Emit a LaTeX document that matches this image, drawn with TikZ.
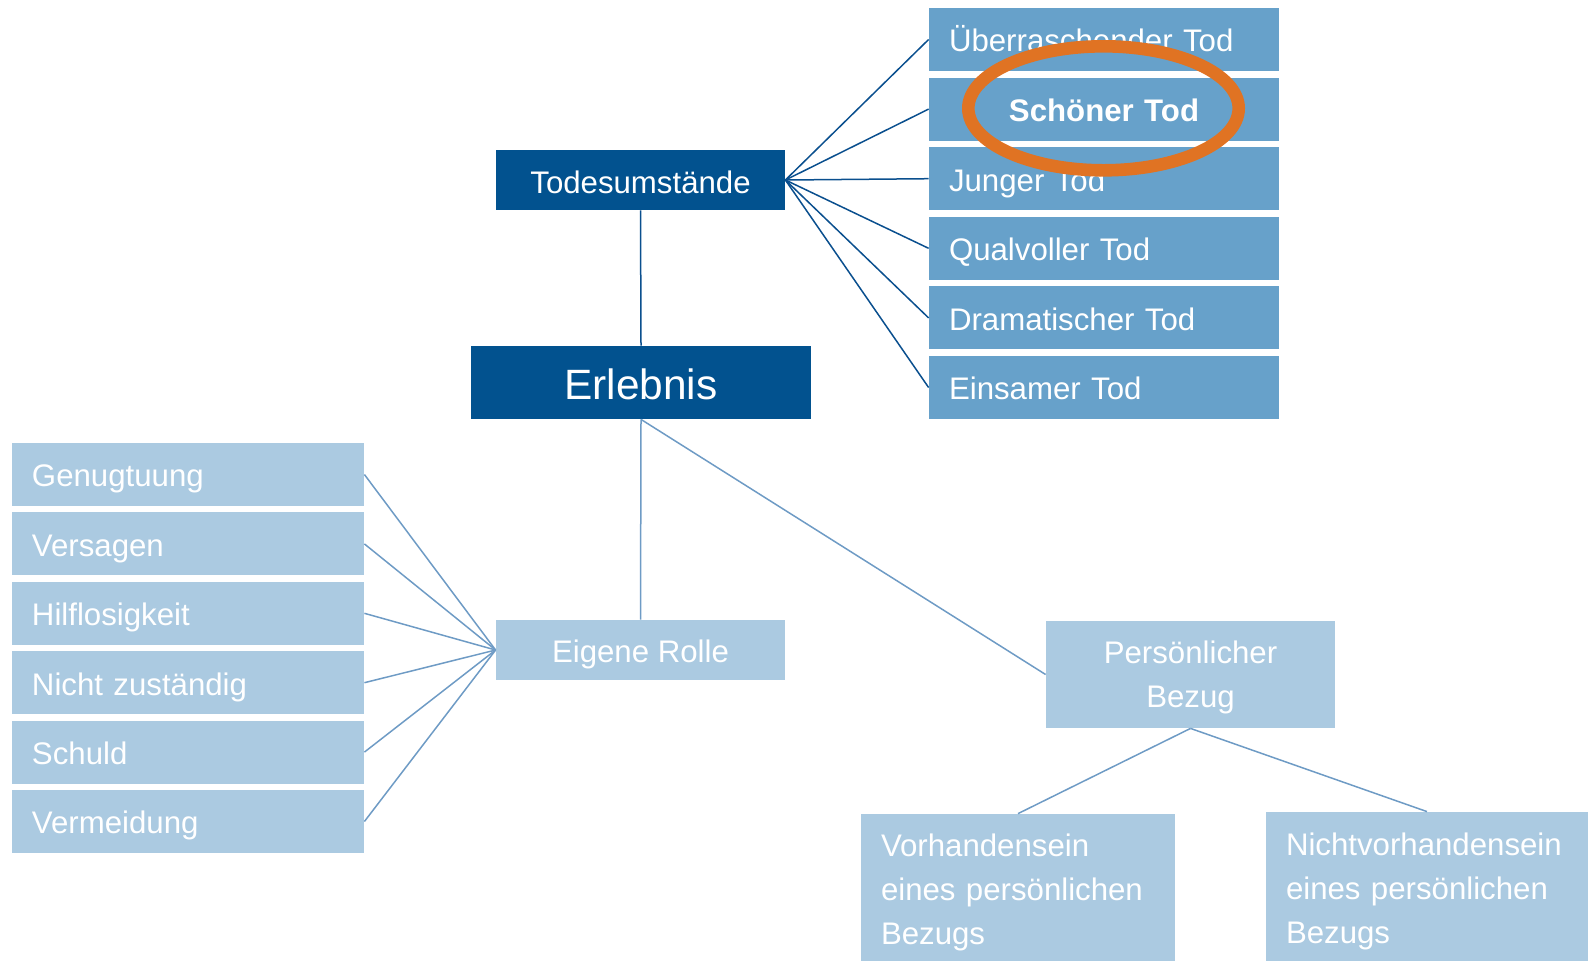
\documentclass[tikz,border=0pt]{standalone}
\usepackage{fontspec}
\setmainfont{Liberation Sans}
\usepackage{tikz}
\definecolor{darkblue}{HTML}{02528F}
\definecolor{midblue}{HTML}{67A1CA}
\definecolor{lightblue}{HTML}{ABCAE1}
\definecolor{darkline}{HTML}{0A4F8E}
\definecolor{lightline}{HTML}{6E9BC5}
\definecolor{markorange}{HTML}{E07323}

\begin{document}
\begin{tikzpicture}[x=0.5pt,y=-0.5pt,
  box/.style={inner sep=0pt,text=white,font=\fontsize{15.6}{22}\selectfont},
  oneline/.style={text height=12.4pt,text depth=0pt},
  headbox/.style={box,fill=darkblue,minimum width=144.5pt,minimum height=30pt,text height=13.4pt,text depth=0pt},
  todbox/.style={box,oneline,fill=midblue,minimum width=175pt,minimum height=31.5pt,text width=155pt,align=left},
  rollbox/.style={box,oneline,fill=lightblue,minimum width=176pt,minimum height=31.5pt,text width=156pt,align=left},
  subbox/.style={box,fill=lightblue,align=center},
  darkedge/.style={draw=darkline,line width=0.75pt},
  lightedge/.style={draw=lightline,line width=0.75pt}]
\useasboundingbox (0,0) rectangle (1588,960);
% main boxes:
\node[headbox] (todesumst) at (640.5,180) {Todesumstände};
\node[headbox,minimum width=170pt,minimum height=36.5pt,text height=17.4pt,font=\fontsize{21.2}{26}\selectfont] (erlebnis) at (641,382.5) {Erlebnis};
\node[subbox,oneline,minimum width=144.5pt,minimum height=30pt] (rolle) at (640.5,650) {Eigene Rolle};
\node[subbox,minimum width=144.5pt,minimum height=53.5pt] (bezug) at (1190.5,674.5) {\rule{0pt}{14.5pt}Persönlicher\\Bezug};
\node[subbox,minimum width=157pt,minimum height=78pt,text width=137pt,align=left] (vorh) at (1018,892) {Vorhandensein\\eines persönlichen\\Bezugs};
\node[subbox,minimum width=161pt,minimum height=79pt,text width=141pt,align=left] (nichtvorh) at (1427,891) {Nichtvorhandensein\\eines persönlichen\\Bezugs};
% todesumstaende:
\node[todbox] (tod1) at (1104,39.5) {Überraschender Tod};
\node[todbox,align=center,font=\fontsize{15.6}{22}\selectfont\bfseries] (tod2) at (1104,109.1) {Schöner Tod};
\node[todbox] (tod3) at (1104,178.7) {Junger Tod};
\node[todbox] (tod4) at (1104,248.3) {Qualvoller Tod};
\node[todbox] (tod5) at (1104,317.9) {Dramatischer Tod};
\node[todbox] (tod6) at (1104,387.5) {Einsamer Tod};
% eigene rolle:
\node[rollbox] (rolle1) at (188,474.5) {Genugtuung};
\node[rollbox] (rolle2) at (188,543.9) {Versagen};
\node[rollbox] (rolle3) at (188,613.3) {Hilflosigkeit};
\node[rollbox] (rolle4) at (188,682.7) {Nicht zuständig};
\node[rollbox] (rolle5) at (188,752.1) {Schuld};
\node[rollbox] (rolle6) at (188,821.5) {Vermeidung};
% connectors:
\path[darkedge] (todesumst.south) -- (erlebnis.north);
\path[darkedge] (todesumst.east) -- (tod1.west);
\path[darkedge] (todesumst.east) -- (tod2.west);
\path[darkedge] (todesumst.east) -- (tod3.west);
\path[darkedge] (todesumst.east) -- (tod4.west);
\path[darkedge] (todesumst.east) -- (tod5.west);
\path[darkedge] (todesumst.east) -- (tod6.west);
\path[lightedge] (erlebnis.south) -- (rolle.north);
\path[lightedge] (erlebnis.south) -- (bezug.west);
\path[lightedge] (rolle.west) -- (rolle1.east);
\path[lightedge] (rolle.west) -- (rolle2.east);
\path[lightedge] (rolle.west) -- (rolle3.east);
\path[lightedge] (rolle.west) -- (rolle4.east);
\path[lightedge] (rolle.west) -- (rolle5.east);
\path[lightedge] (rolle.west) -- (rolle6.east);
\path[lightedge] (bezug.south) -- (vorh.north);
\path[lightedge] (bezug.south) -- (nichtvorh.north);
% highlight:
\path[draw=markorange,line width=6.3pt] (1103.5,108.3) ellipse [x radius=67.6pt,y radius=31pt];
\end{tikzpicture}
\end{document}
